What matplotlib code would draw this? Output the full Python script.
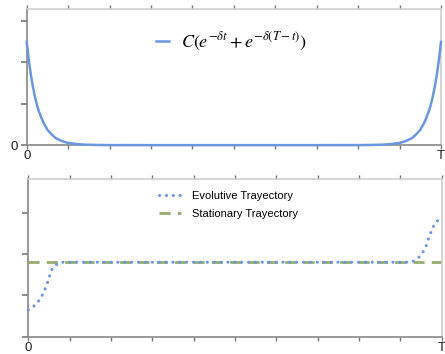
import matplotlib
matplotlib.use("Agg")
import matplotlib.pyplot as plt

# ---- data ----
x_tick_labels = ["0", "T"]
T_end = 10

top_t = [0, 0.05, 0.1, 0.15, 0.2, 0.25, 0.3, 0.4, 0.5, 0.6, 0.7, 0.8, 0.9, 1.0, 1.2, 1.4, 1.7, 2.0, 3.0,
         5.0,
         7.0, 8.0, 8.3, 8.6, 8.8, 9.0, 9.1, 9.2, 9.3, 9.4, 9.5, 9.6, 9.7, 9.75, 9.8, 9.85, 9.9, 9.95, 10.0]
top_y = [2.49, 2.06, 1.70, 1.41, 1.16, 0.96, 0.80, 0.55, 0.37, 0.26, 0.17, 0.12, 0.08, 0.055, 0.026, 0.012, 0.004, 0.001, 0.0,
         0.0,
         0.0, 0.001, 0.004, 0.012, 0.026, 0.055, 0.08, 0.12, 0.17, 0.26, 0.37, 0.55, 0.80, 0.96, 1.16, 1.41, 1.70, 2.06, 2.49]
top_label = r"$C\left(e^{-\delta t}+e^{-\delta(T-t)}\right)$"

evo_t = [0, 0.12, 0.22, 0.31, 0.37, 0.43, 0.48, 0.52, 0.55, 0.6, 0.67, 0.81, 5.0, 9.2, 9.3, 9.36, 9.48, 9.56, 9.63,
         9.67, 9.73, 9.77, 9.85, 9.95, 10.0]
evo_y = [0.645, 0.725, 0.82, 0.95, 1.07, 1.21, 1.35, 1.49, 1.59, 1.67, 1.74, 1.80, 1.80, 1.80, 1.82, 1.85, 1.95, 2.07, 2.21,
         2.35, 2.50, 2.62, 2.75, 2.86, 2.92]
stat_t = [0, 10]
stat_y = [1.80, 1.80]
evo_label = "Evolutive Trayectory"
stat_label = "Stationary Trayectory"

blue = "#6a97df"
green = "#95ad6c"
dark = "#888888"
light = "#cfcfcf"

plt.rcParams["font.family"] = ["Liberation Sans", "DejaVu Sans"]
plt.rcParams["mathtext.fontset"] = "stix"

fig = plt.figure(figsize=(4.45, 3.54), dpi=100)
ax1 = fig.add_axes([0.060, 0.590, 0.931, 0.384])
ax2 = fig.add_axes([0.0636, 0.049, 0.929, 0.445])


def style(ax, ytop):
    ax.set_xlim(0, T_end)
    ax.set_ylim(0, ytop)
    ax.set_xticks(range(0, T_end + 1))
    ax.set_yticks([0, 1, 2, 3])
    for s in ["left", "bottom"]:
        ax.spines[s].set_color(dark)
        ax.spines[s].set_linewidth(1.2)
    for s in ["top", "right"]:
        ax.spines[s].set_color(light)
        ax.spines[s].set_linewidth(1.2)
    ax.tick_params(axis="x", which="both", top=True, bottom=True, direction="out",
                   length=3, width=1, color="#777777", labelsize=9.5, pad=0.5, labelcolor="#222222")
    ax.tick_params(axis="y", direction="out", length=4, width=1.2, color="#777777",
                   labelsize=9.5, pad=2, labelcolor="#222222")
    ax.set_xticklabels([x_tick_labels[0]] + [""] * (T_end - 1) + [x_tick_labels[1]])


style(ax1, 3.28)
ax1.set_yticklabels(["0", "", "", ""])
ax1.plot(top_t, top_y, color=blue, lw=1.8, label=top_label, clip_on=False, zorder=3)
ax1.legend(loc="upper center", bbox_to_anchor=(0.495, 0.96), frameon=False, fontsize=13,
           handlelength=0.7, handletextpad=0.7)

style(ax2, 3.81)
ax2.set_yticklabels(["", "", "", ""])
ax2.plot(stat_t, stat_y, color=green, lw=2, linestyle=(0, (4, 2.6)), label=stat_label, zorder=2)
ax2.plot(evo_t, evo_y, color=blue, lw=2.2, linestyle=(0, (0.05, 2.2)), dash_capstyle="round",
         label=evo_label, zorder=3, clip_on=False)
h, l = ax2.get_legend_handles_labels()
ax2.legend(h[::-1], l[::-1], loc="upper center", bbox_to_anchor=(0.485, 0.99), frameon=False,
           fontsize=8, handlelength=2.0, handletextpad=1.0, labelspacing=0.75)

fig.savefig("out.png", dpi=100)
